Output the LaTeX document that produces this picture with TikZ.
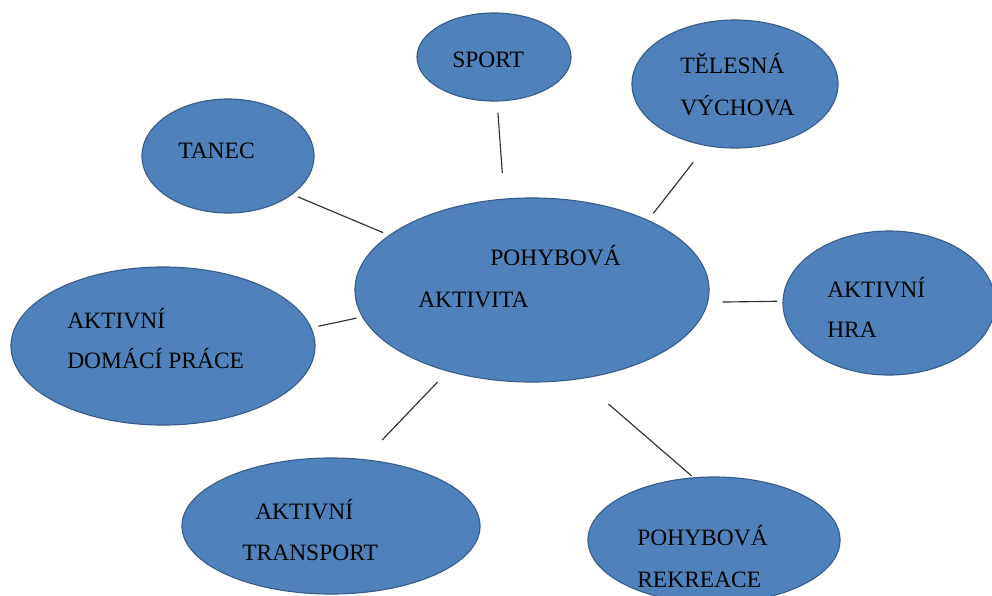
\documentclass[tikz,border=0pt]{standalone}
\usepackage{fontspec}
\setmainfont{Liberation Serif}
\usepackage{tikz}
\usetikzlibrary{shapes.geometric}
\definecolor{bubblefill}{RGB}{79,129,189}
\definecolor{bubbleedge}{RGB}{56,93,138}
\definecolor{linkgray}{RGB}{45,45,45}

\begin{document}
\begin{tikzpicture}[x=0.025cm,y=-0.025cm,
    bubble/.style={ellipse,draw=bubbleedge,fill=bubblefill,line width=0.8pt,inner sep=0pt,outer sep=0pt},
    word/.style={anchor=base west,inner sep=0pt,font=\fontsize{16.7}{20}\selectfont},
    link/.style={linkgray,line width=0.8pt}]
    \useasboundingbox (0,0) rectangle (992,595);
    \clip (0,0) rectangle (992,595);
    \node[bubble,minimum width=8.85cm,minimum height=4.6cm] (main) at (532,290) {};
    \node[bubble,minimum width=3.85cm,minimum height=2.2cm] (sport) at (494,57) {};
    \node[bubble,minimum width=5.15cm,minimum height=3.2cm] (telesna) at (735,84) {};
    \node[bubble,minimum width=4.3cm,minimum height=2.85cm] (tanec) at (228,156) {};
    \node[bubble,minimum width=5.3cm,minimum height=3.6cm] (hra) at (889,303) {};
    \node[bubble,minimum width=7.6cm,minimum height=3.95cm] (domaci) at (163,346) {};
    \node[bubble,minimum width=7.45cm,minimum height=3.4cm] (transport) at (331,526) {};
    \node[bubble,minimum width=6.3cm,minimum height=3.15cm] (rekreace) at (714,540) {};

    \node[word] (mainA) at (490,265) {POHYBOVÁ};
    \node[word] (mainB) at (418,307) {AKTIVITA};
    \node[word] (sportA) at (452,67) {SPORT};
    \node[word] (telesnaA) at (680,73) {TĚLESNÁ};
    \node[word] (telesnaB) at (680,115) {VÝCHOVA};
    \node[word] (tanecA) at (178,158) {TANEC};
    \node[word] (hraA) at (827,297) {AKTIVNÍ};
    \node[word] (hraB) at (827,337) {HRA};
    \node[word] (domaciA) at (67,328) {AKTIVNÍ};
    \node[word] (domaciB) at (67,368) {DOMÁCÍ PRÁCE};
    \node[word] (transportA) at (255,519) {AKTIVNÍ};
    \node[word] (transportB) at (242,560) {TRANSPORT};
    \node[word] (rekreaceA) at (637,545) {POHYBOVÁ};
    \node[word] (rekreaceB) at (637,587) {REKREACE};

    \draw[link,shorten <=0.18cm,shorten >=0.17cm] (main.159) -- (tanec.-31);
    \draw[link,shorten <=0.65cm,shorten >=0.3cm] (main.107) -- (sport.-86);
    \draw[link,shorten <=0.22cm,shorten >=0.53cm] (main.31.5) -- (telesna.-115);
    \draw[link,shorten <=0.38cm,shorten >=0.15cm] (main.-4.8) -- (hra.179);
    \draw[link,shorten <=0.16cm,shorten >=0.19cm] (main.-171) -- (domaci.7);
    \draw[link,shorten <=0.38cm,shorten >=0.68cm] (main.-136) -- (transport.64);
    \draw[link,shorten <=0.97cm,shorten >=0.07cm] (main.-62) -- (rekreace.108);
\end{tikzpicture}
\end{document}
